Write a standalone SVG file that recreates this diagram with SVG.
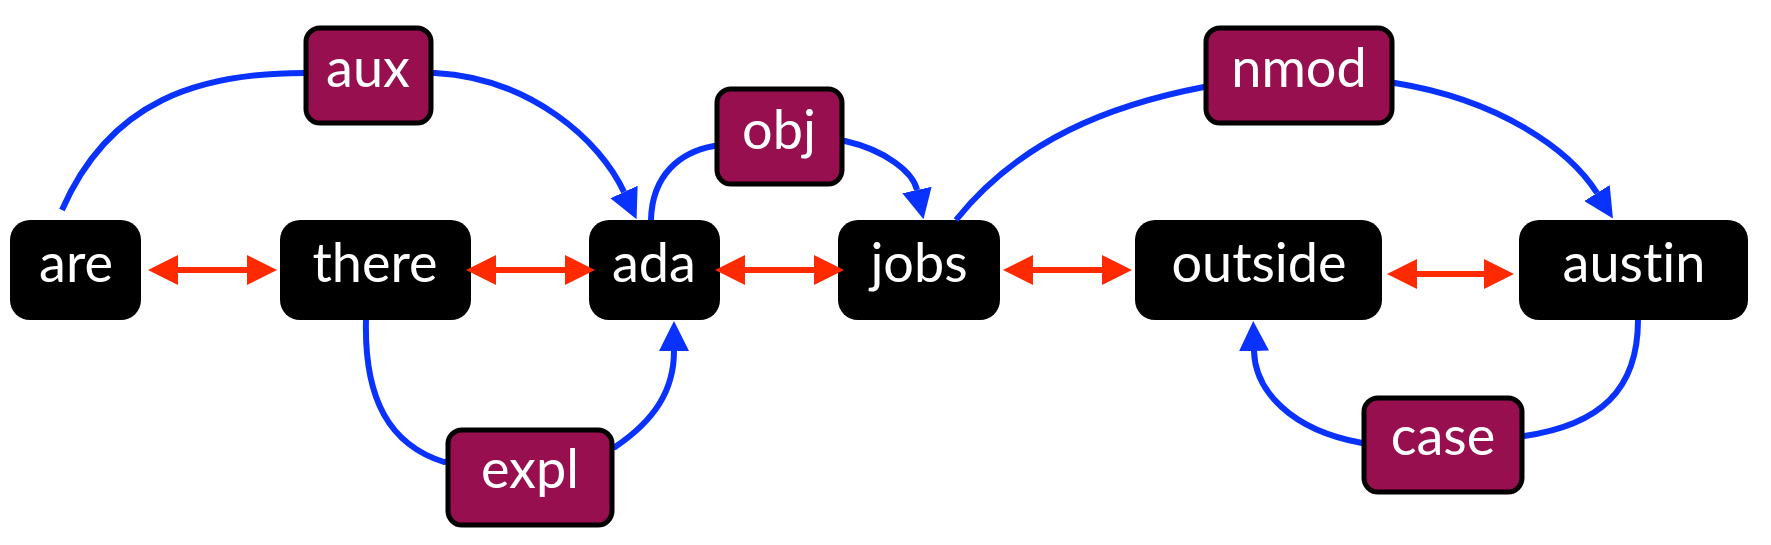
<svg xmlns="http://www.w3.org/2000/svg" width="1771" height="545" viewBox="0 0 1771 545">
<style>
.node rect{fill:#000;}
.lbl rect{fill:#970F4F;stroke:#000;stroke-width:5;}
text{font-family:Lato,"Open Sans",sans-serif;font-size:54px;fill:#fff;text-anchor:middle;font-variant-ligatures:none;}
.dep{fill:none;stroke:#0A32FF;stroke-width:6;}
.seq{fill:none;stroke:#FF2A00;stroke-width:6;}
</style>
<defs>
<marker id="blue" markerUnits="userSpaceOnUse" viewBox="0 0 30 30" markerWidth="30" markerHeight="30" refX="0" refY="15" orient="auto"><path d="M0,0 L30,15 L0,30 z" fill="#0A32FF"/></marker>
<marker id="red" markerUnits="userSpaceOnUse" viewBox="0 0 30 30" markerWidth="30" markerHeight="30" refX="0" refY="15" orient="auto-start-reverse"><path d="M0,0 L30,15 L0,30 z" fill="#FF2A00"/></marker>
</defs>
<rect width="1771" height="545" fill="#fff"/>
<g id="node-are" class="node"><rect x="10" y="220" width="131" height="100" rx="20"/><text x="76" y="282">are</text></g>
<g id="node-there" class="node"><rect x="280" y="220" width="191" height="100" rx="20"/><text x="375" y="282">there</text></g>
<g id="node-ada" class="node"><rect x="589" y="220" width="131" height="100" rx="20"/><text x="654" y="282">ada</text></g>
<g id="node-jobs" class="node"><rect x="838" y="220" width="162" height="100" rx="20"/><text x="919" y="282">jobs</text></g>
<g id="node-outside" class="node"><rect x="1135" y="220" width="247" height="100" rx="20"/><text x="1259" y="282">outside</text></g>
<g id="node-austin" class="node"><rect x="1519" y="220" width="229" height="100" rx="20"/><text x="1634" y="282">austin</text></g>
<g id="connectors">
<path class="dep" d="M62,210 C110,100 200,73 304,73 L435,73 C530,78 600,140 624,192" marker-end="url(#blue)"/>
<path class="dep" d="M651,220 C652,175 680,152 714,146 L845,141 C885,150 913,172 917,190" marker-end="url(#blue)"/>
<path class="dep" d="M366,320 C364,400 390,445 444,462 L615,447 C655,420 674,390 674,351" marker-end="url(#blue)"/>
<path class="dep" d="M956,220 C1020,140 1110,105 1204,87 L1395,83 C1500,100 1570,150 1597,193" marker-end="url(#blue)"/>
<path class="dep" d="M1638,320 C1638,390 1600,425 1524,436 L1362,443 C1290,430 1255,390 1254,351" marker-end="url(#blue)"/>
<path class="seq" d="M178,270 L247,270" marker-start="url(#red)" marker-end="url(#red)"/>
<path class="seq" d="M496,270 L565,270" marker-start="url(#red)" marker-end="url(#red)"/>
<path class="seq" d="M745,270 L814,270" marker-start="url(#red)" marker-end="url(#red)"/>
<path class="seq" d="M1033,270 L1102,270" marker-start="url(#red)" marker-end="url(#red)"/>
<path class="seq" d="M1417,274 L1484,274" marker-start="url(#red)" marker-end="url(#red)"/>
</g>
<g id="label-aux" class="lbl"><rect x="306" y="28" width="125" height="95" rx="14"/><text x="368" y="87">aux</text></g>
<g id="label-obj" class="lbl"><rect x="717" y="89" width="125" height="95" rx="14"/><text x="779" y="149">obj</text></g>
<g id="label-expl" class="lbl"><rect x="448" y="430" width="164" height="95" rx="14"/><text x="530" y="488">expl</text></g>
<g id="label-nmod" class="lbl"><rect x="1206" y="28" width="186" height="95" rx="14"/><text x="1299" y="87">nmod</text></g>
<g id="label-case" class="lbl"><rect x="1364" y="398" width="158" height="94" rx="14"/><text x="1443" y="455">case</text></g>
</svg>
